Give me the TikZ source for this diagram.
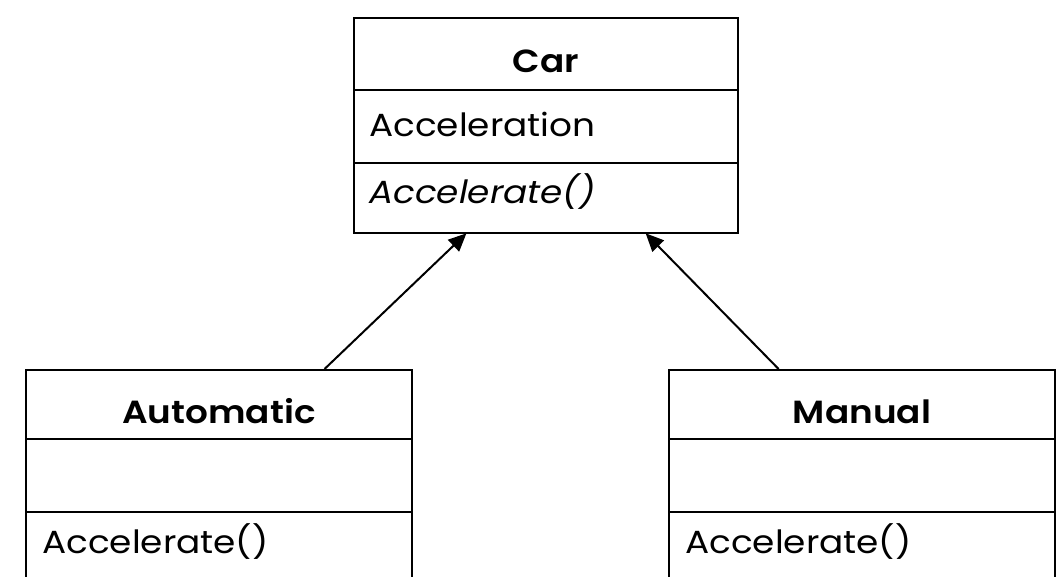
\documentclass[tikz,border=0pt]{standalone}
\usepackage{fontspec}
\setmainfont{Poppins}[Ligatures=NoCommon, FakeStretch=1.12, BoldFont={Poppins SemiBold}]
\usetikzlibrary{arrows.meta,calc}

\tikzset{
  cell/.style={draw=black, line width=2pt, rectangle, inner sep=0pt, anchor=north west},
  label/.style={anchor=base west, inner sep=0pt, font=\fontsize{32}{38}\selectfont},
  title/.style={anchor=base, inner sep=0pt, font=\fontsize{32}{38}\selectfont\bfseries},
  inherit/.style={line width=2pt, -{Triangle[length=18pt,width=16pt]}, shorten >=-1pt}
}

\begin{document}
\begin{tikzpicture}[x=1pt,y=-1pt]
  \useasboundingbox (0,0) rectangle (1058,577);
  \clip (0,0) rectangle (1058,577);
  \fill[white] (0,0) rectangle (1058,577);

  % Car class
  \node[cell, minimum width=384pt, minimum height=72pt] (carhead) at (353,17) {};
  \node[cell, minimum width=384pt, minimum height=73pt] (carattr) at (353,89) {};
  \node[cell, minimum width=384pt, minimum height=70pt] (carops)  at (353,162) {};
  \node[title] (cartitle) at ($(carhead.center)+(0,19)$) {Car};
  \node[label] (caracc) at ($(carattr.west)+(16,10)$) {Acceleration};
  \node[label] (carmeth) at ($(carops.west)+(16,6)$) {\itshape Accelerate()};

  % Automatic class
  \node[cell, minimum width=386pt, minimum height=69pt] (autohead) at (25,369) {};
  \node[cell, minimum width=386pt, minimum height=73pt] (autoattr) at (25,438) {};
  \node[cell, minimum width=386pt, minimum height=120pt] (autoops) at (25,511) {};
  \node[title] (autotitle) at ($(autohead.center)+(0,19)$) {Automatic};
  \node[label] (autometh) at ($(autoops.north west)+(17,42)$) {Accelerate()};

  % Manual class
  \node[cell, minimum width=386pt, minimum height=69pt] (manhead) at (668,369) {};
  \node[cell, minimum width=386pt, minimum height=73pt] (manattr) at (668,438) {};
  \node[cell, minimum width=386pt, minimum height=120pt] (manops) at (668,511) {};
  \node[title] (mantitle) at ($(manhead.center)+(0,19)$) {Manual};
  \node[label] (manmeth) at ($(manops.north west)+(17,42)$) {Accelerate()};

  % Generalisation arrows
  \draw[inherit] ($(autohead.north west)!0.772!(autohead.north east)$)
              -- ($(carops.south west)!0.292!(carops.south east)$);
  \draw[inherit] ($(manhead.north west)!0.285!(manhead.north east)$)
              -- ($(carops.south west)!0.76!(carops.south east)$);
\end{tikzpicture}
\end{document}
